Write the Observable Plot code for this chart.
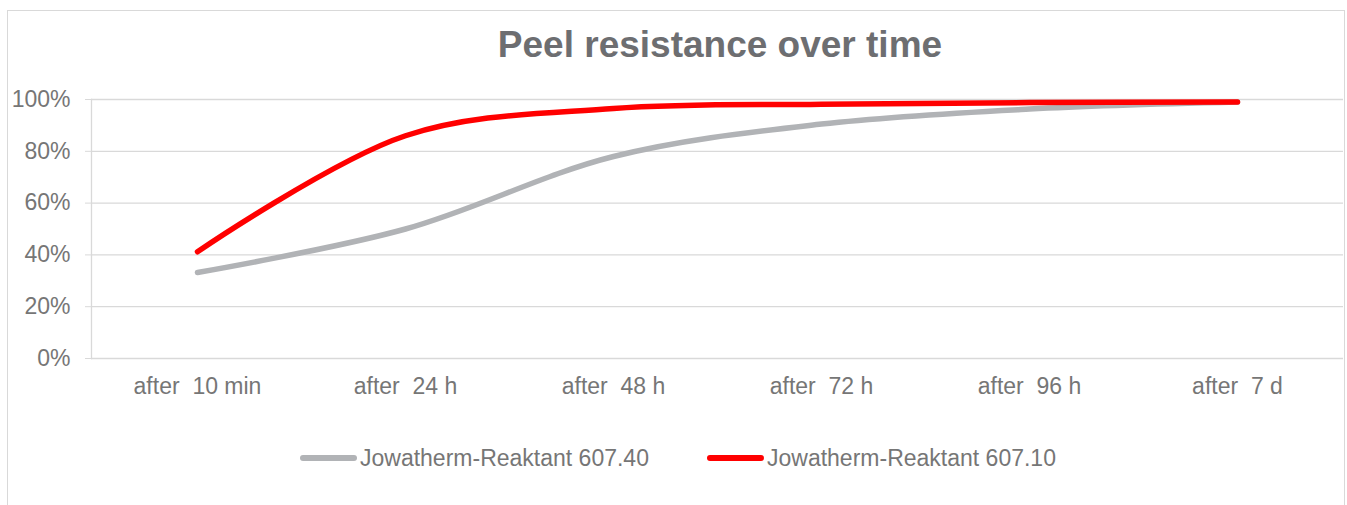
<!DOCTYPE html>
<html>
<head>
<meta charset="utf-8">
<script src="https://cdn.jsdelivr.net/npm/d3@7"></script>
<script src="https://cdn.jsdelivr.net/npm/@observablehq/plot@0.6"></script>
<style>
  html, body { margin: 0; padding: 0; background: #fff; }
  body { width: 1347px; height: 505px; overflow: hidden; position: relative; font-family: "Liberation Sans", Arial, sans-serif; }
  #frame { position: absolute; left: 7px; top: 10px; width: 1338px; height: 520px; border: 1px solid #d9d9d9; box-sizing: border-box; }
  #title { position: absolute; left: 0; top: 25px; width: 1440px; text-align: center; font-size: 37px; line-height: 40px; font-weight: bold; color: #6d6e71; }
  #chart { position: absolute; left: 0; top: 0; }
  #chart svg text { white-space: pre; }
  #legend { position: absolute; top: 444px; left: 0; width: 1347px; height: 28px; font-size: 23px; color: #767676; }
  .item { position: absolute; top: 0; display: flex; align-items: center; height: 28px; line-height: 28px; }
  .sw { width: 57px; height: 6px; border-radius: 3px; margin-right: 3px; }
</style>
</head>
<body>
<div id="frame"></div>
<div id="title">Peel resistance over time</div>
<div id="chart"></div>
<div id="legend"></div>
<script>
const categories = ["after  10 min", "after  24 h", "after  48 h", "after  72 h", "after  96 h", "after  7 d"];
const seriesNames = ["Jowatherm-Reaktant 607.40", "Jowatherm-Reaktant 607.10"];
const seriesColors = ["#b1b3b6", "#ff0000"];
const values40 = [33.2, 50, 78, 90.5, 96.3, 99];
const values10 = [41.2, 86, 96.5, 98.2, 98.8, 99];
const yTicks = [0, 20, 40, 60, 80, 100];

const rows = [];
[values40, values10].forEach((vals, s) => {
  vals.forEach((v, i) => rows.push({series: seriesNames[s], cat: categories[i], value: v}));
});

const chart = Plot.plot({
  width: 1347,
  height: 410,
  marginTop: 99,
  marginBottom: 52,
  marginLeft: 91,
  marginRight: 4,
  style: {fontFamily: "'Liberation Sans', Arial, sans-serif", fontSize: "23px", color: "#767676", background: "transparent"},
  x: {type: "point", domain: categories, padding: 0.5, label: null},
  y: {domain: [0, 100], label: null},
  color: {domain: seriesNames, range: seriesColors},
  marks: [
    Plot.ruleY(yTicks, {stroke: "#d9d9d9", strokeWidth: 1.3}),
    Plot.frame({anchor: "left", stroke: "#d9d9d9", strokeWidth: 1.3}),
    Plot.axisY(yTicks, {tickSize: 6, tickPadding: 15, stroke: "#d9d9d9", fill: "#767676", tickFormat: d => d + "%", label: null, fontSize: 23}),
    Plot.axisX({tickSize: 0, tickPadding: 19, fill: "#767676", label: null, fontSize: 23}),
    Plot.line(rows, {x: "cat", y: "value", z: "series", stroke: "series", strokeWidth: 5.5, curve: "catmull-rom", strokeLinecap: "round", strokeLinejoin: "round"})
  ]
});
document.getElementById("chart").appendChild(chart);

const legend = document.getElementById("legend");
const lefts = [300, 707];
seriesNames.forEach((n, i) => {
  const it = document.createElement("div");
  it.className = "item";
  it.style.left = lefts[i] + "px";
  const sw = document.createElement("div");
  sw.className = "sw";
  sw.style.background = seriesColors[i];
  const tx = document.createElement("span");
  tx.textContent = n;
  it.appendChild(sw); it.appendChild(tx);
  legend.appendChild(it);
});
</script>
</body>
</html>
